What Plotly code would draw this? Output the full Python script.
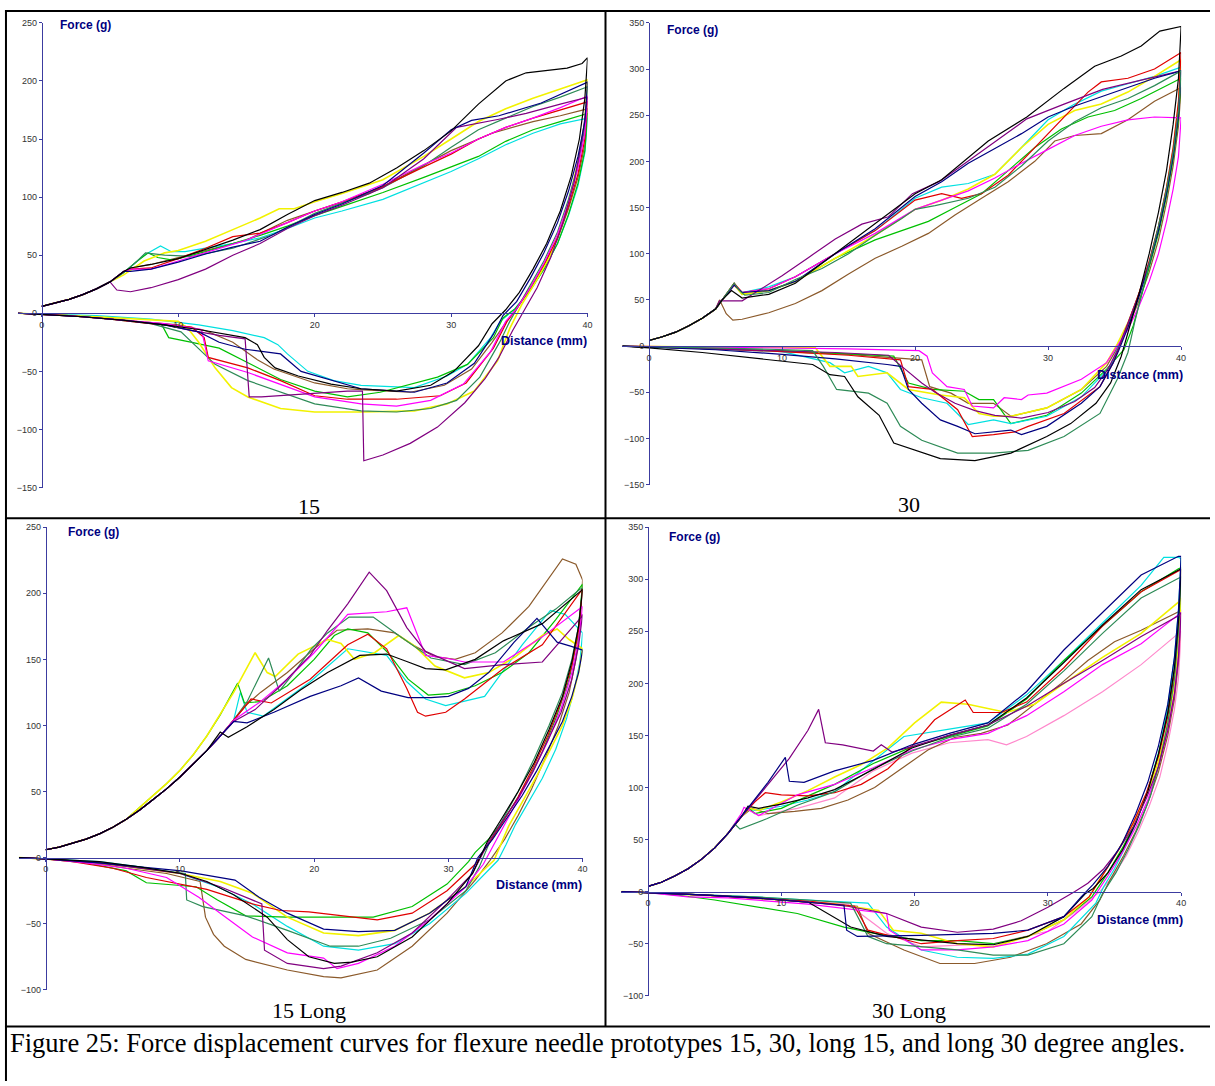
import plotly.graph_objects as go

# ---------------- data (Distance mm, Force g) ----------------
P1_START = [(0, 6), (1, 9), (2, 12), (3, 16), (4, 21), (5, 27)]
P1_BLACK = [(6, 36), (6.5, 39), (8, 42), (10, 47), (12, 55), (14, 63), (16, 72), (18, 85), (20, 97), (22, 104), (24, 112), (26, 125), (28, 140), (30, 157), (32, 180), (34, 200), (35.5, 207), (37, 209), (38.5, 211), (39.6, 215), (40, 220),
            (39.8, 185), (39.4, 150), (38.8, 118), (38, 88), (37, 60), (36, 38), (35, 18), (34, 3), (33, -9), (32, -28), (30.2, -50), (28.5, -62), (26, -67), (23.4, -65), (21.2, -61), (18.8, -54), (17.1, -47), (16.3, -38), (15.8, -27), (14.9, -21), (11.5, -14), (9, -10), (6, -6), (3, -3), (0, -1), (-1.75, 0)]
P1_NAVY = [(6, 36), (6.5, 36), (8, 38), (10, 44), (12, 51), (14, 57), (16, 62), (18, 74), (20, 85), (22, 94), (25, 110), (28, 138), (30, 158), (31.5, 166), (33.5, 170), (36.6, 181), (39.7, 197), (40, 199),
           (39.8, 165), (39.3, 135), (38.6, 105), (37.8, 78), (36.8, 52), (35.8, 30), (34.8, 10), (33.8, -2), (33.1, -18), (31.7, -43), (29.7, -60), (27.3, -68), (23.4, -65), (21, -57), (19, -50), (17.5, -35), (14.9, -31), (13, -25), (11.5, -16), (9, -10), (6, -6), (3, -3), (0, -1), (-1.75, 0)]
P1_PURPLE = [(5.5, 20), (6.5, 18.5), (8, 22), (10, 29), (12, 38), (14, 50), (16, 60), (18, 73), (20, 84), (22, 93), (25, 108), (28, 133), (30.4, 160), (33.5, 167), (35.5, 172), (38, 180), (40, 186),
             (39.6, 150), (39, 112), (38.2, 78), (37.3, 48), (36.3, 22), (35.3, 2), (34.5, -15), (33.5, -38), (32.5, -56), (31, -77), (29, -98), (27, -112), (25, -122), (23.6, -127), (23.5, -67), (22.4, -67), (20, -69), (18, -71), (16.1, -72), (15.2, -72), (14.9, -22), (13, -19), (11, -15), (9, -10), (6, -6), (3, -3), (0, -1), (-1.75, 0)]
P1_MAGENTA = [(6, 36), (6.5, 38), (8, 38), (10, 45), (12, 52), (15, 63), (18, 78), (20, 88), (22, 96), (25, 111), (28, 128), (30, 138), (32, 150), (34, 160), (36, 168), (38, 177), (40, 187),
              (39.8, 155), (39.3, 125), (38.6, 95), (37.8, 68), (36.8, 43), (35.8, 22), (34.8, 4), (34, -7), (32.9, -33), (30.9, -61), (28.5, -75), (26, -80), (23.4, -78), (20, -72), (17.5, -61), (15.1, -51), (12.2, -41), (11.7, -14), (9, -9), (6, -6), (3, -3), (0, -1), (-1.75, 0)]
P1_RED = [(6, 36), (6.5, 38), (8, 39), (10, 47), (12, 56), (14, 66), (16, 69), (18, 78), (20, 88), (22, 96), (25, 109), (28, 126), (30, 137), (32, 150), (34, 160), (36, 168), (38, 175), (40, 182),
          (39.8, 150), (39.3, 120), (38.6, 92), (37.8, 65), (36.8, 42), (35.8, 22), (34.8, 4), (34.1, -7), (33.1, -30), (31.1, -60), (29.2, -71), (26, -74), (22.4, -74), (20, -71), (17.5, -58), (15.1, -47), (12.2, -38), (11.9, -21), (11, -12), (8, -9), (5, -5), (2, -2), (0, -1), (-1.75, 0)]
P1_BROWN = [(6, 36), (6.5, 39), (8, 42), (10, 48), (12, 54), (15, 63), (18, 80), (20, 88), (24, 103), (28, 128), (30, 140), (33, 155), (36, 165), (38, 170), (40, 176),
            (39.8, 145), (39.3, 117), (38.6, 90), (37.8, 64), (36.8, 41), (35.8, 21), (34.8, 4), (34, -8), (33, -25), (31.5, -48), (29.5, -62), (27, -68), (23.6, -66), (22.4, -65), (20, -60), (18.8, -55), (17, -48), (15.8, -40), (14, -25), (12, -15), (10, -10), (7, -7), (4, -3), (0, -1), (-1.75, 0)]
P1_YELLOW = [(6, 33), (7.5, 45), (9, 52), (10, 54), (12, 62), (14, 72), (16, 82), (17.4, 90), (18.5, 90), (20, 96), (22, 103), (25, 115), (28, 135), (30, 150), (32, 165), (34, 176), (36, 185), (38, 193), (40, 201),
             (39.8, 165), (39.3, 130), (38.7, 100), (38, 72), (37.2, 48), (36.2, 27), (35.2, 8), (34.3, -13), (33.4, -41), (31.7, -67), (29.7, -78), (27.3, -84), (23.4, -85), (20, -85), (17.5, -82), (15.1, -72), (13.9, -64), (12.7, -47), (11.5, -25), (10.7, -13), (10, -7), (7, -5), (4, -3), (0, -1), (-1.75, 0)]
P1_GREEN = [(6, 35), (7, 45), (7.8, 52), (8.5, 48), (9.5, 46), (10, 47), (12, 53), (14, 60), (16, 67), (18, 75), (20, 84), (22, 92), (25, 104), (28, 117), (30, 126), (32, 135), (34, 148), (36, 158), (38, 165), (40, 172),
            (39.8, 140), (39.3, 112), (38.6, 85), (37.8, 60), (36.8, 38), (35.8, 20), (34.7, 4), (33.8, -4), (33.1, -21), (31.2, -44), (29, -55), (24.8, -68), (22.4, -72), (20, -67), (17.5, -57), (15.8, -47), (13, -30), (11, -25), (9.3, -21), (8.8, -10), (6, -6), (3, -3), (0, -1), (-1.75, 0)]
P1_DKGREEN = [(6, 35), (7, 45), (7.6, 52), (9, 50), (11, 49), (14, 56), (17, 68), (20, 86), (25, 108), (28, 127), (30, 143), (32, 158), (34, 168), (36, 178), (38, 186), (40, 195),
              (39.8, 160), (39.3, 128), (38.6, 98), (37.8, 70), (36.8, 45), (35.8, 24), (34.9, 6), (34.3, -7), (33.6, -24), (32.1, -55), (30.4, -75), (28.5, -82), (26, -85), (23.4, -84), (20, -78), (17.5, -68), (15.1, -58), (12.7, -44), (10.2, -16), (8, -9), (5, -5), (2, -2), (0, -1), (-1.75, 0)]
P1_CYAN = [(6, 35), (7.5, 50), (8.7, 58), (9.5, 53), (10.5, 53), (12, 56), (14, 60), (16, 65), (18, 73), (20, 82), (22, 88), (25, 98), (28, 112), (30, 122), (32, 133), (34, 145), (36, 155), (38, 163), (40, 168),
           (39.8, 138), (39.3, 110), (38.6, 84), (37.8, 60), (36.8, 38), (35.8, 20), (34.6, 3), (33.6, -7), (32.9, -21), (31.2, -44), (29.7, -54), (27.3, -64), (23.4, -62), (21.4, -58), (19.5, -50), (18, -35), (17.3, -27), (16.3, -21), (14, -15), (11.5, -10), (8, -5), (4, -2), (0, -1), (-1.75, 0)]

P2_START = [(0, 6), (1, 10), (2, 15), (3, 22), (4, 30), (5, 40)]
P2_BLACK = [(5.5, 50), (6.2, 60), (7, 52), (9, 56), (11, 68), (14, 100), (17, 133), (20, 165), (22, 180), (25.5, 222), (28.4, 248), (31.2, 279), (33.5, 303), (35.5, 314), (37, 325), (38.4, 341), (40, 346),
            (39.8, 290), (39.4, 240), (38.9, 190), (38.3, 145), (37.6, 100), (36.9, 60), (36.2, 25), (35.5, -11), (34.7, -40), (33.6, -62), (31.7, -84), (29.9, -98), (27.2, -116), (24.5, -124), (21.9, -122), (20.5, -115), (18.4, -105), (17.3, -75), (15.7, -55), (14.7, -33), (13.6, -31), (12.3, -20), (8, -13), (4, -7), (0, -2), (-2, 0)]
P2_DKGREEN = [(5.5, 50), (6.4, 68), (6.8, 60), (7.2, 55), (9, 58), (11, 72), (13, 84), (15, 100), (17, 120), (19, 138), (20, 148), (21.5, 152), (24, 160), (26, 172), (28, 195), (30, 222), (32, 243), (34, 258), (36, 268), (38, 282), (40, 298),
              (39.8, 255), (39.4, 210), (38.9, 170), (38.3, 130), (37.6, 90), (37, 55), (36.5, 25), (36, -7), (35.2, -36), (33.9, -73), (31.2, -98), (28.5, -113), (25.9, -116), (23.2, -116), (20.5, -102), (18.9, -87), (17.9, -62), (16.5, -51), (14.1, -47), (13.1, -22), (12.3, -5), (8, -3), (4, -2), (0, -1), (-2, 0)]
P2_NAVY = [(5.5, 50), (6.4, 66), (7, 58), (9, 60), (11, 70), (14, 100), (17, 127), (20, 162), (22, 178), (24, 198), (26, 214), (28, 230), (30, 248), (32, 260), (34, 270), (36, 280), (38, 290), (40, 298),
           (39.8, 250), (39.4, 205), (38.9, 165), (38.3, 125), (37.6, 88), (36.8, 52), (36, 20), (35.3, -5), (34.9, -18), (33.9, -44), (32.5, -62), (29.9, -87), (28, -96), (27.2, -91), (24.5, -95), (23.2, -87), (21.9, -80), (20.5, -62), (19.5, -47), (18.9, -22), (17.9, -20), (14, -14), (10, -9), (5, -4), (0, -1), (-2, 0)]
P2_PURPLE = [(5.3, 49), (7, 49), (8, 58), (10, 76), (12, 96), (14, 116), (16, 132), (18, 140), (19.8, 165), (21.8, 178), (23, 190), (25.5, 216), (28.4, 246), (31.2, 262), (34.1, 278), (37, 288), (40, 298),
             (39.8, 252), (39.4, 208), (38.9, 168), (38.3, 128), (37.6, 90), (36.8, 55), (36, 25), (35.2, -5), (34.5, -25), (33.5, -45), (32, -60), (30, -72), (28, -78), (26, -75), (24.5, -70), (23, -62), (21.5, -50), (20.5, -40), (19, -22), (18, -10), (14, -7), (10, -5), (5, -3), (0, -1), (-2, 0)]
P2_MAGENTA = [(5.5, 50), (6.4, 66), (7, 58), (9, 62), (11, 75), (14, 100), (17, 122), (20, 148), (22, 158), (24, 168), (26, 182), (28, 198), (30, 213), (32, 228), (34, 238), (36, 245), (38, 248), (40, 247),
              (39.8, 205), (39.4, 170), (38.9, 135), (38.3, 100), (37.6, 70), (36.8, 42), (36, 18), (35.2, 0), (34.4, -18), (32.5, -36), (29.9, -51), (28.5, -53), (28, -58), (26.7, -56), (25.9, -67), (24.3, -65), (23.7, -47), (22.4, -44), (21.3, -29), (20.9, -11), (20.3, -5), (15, -3), (10, -2), (5, -1), (0, 0), (-2, 0)]
P2_RED = [(5.5, 50), (6.4, 68), (7, 58), (9, 62), (11, 75), (14, 100), (17, 125), (20, 158), (22, 165), (23.5, 160), (25, 165), (27, 185), (29, 215), (31, 245), (33, 275), (34, 286), (36, 290), (38, 300), (40, 318),
          (39.8, 265), (39.4, 215), (38.9, 172), (38.3, 130), (37.6, 92), (36.8, 56), (36, 24), (35.4, 0), (34.9, -18), (33.9, -44), (31.2, -73), (28.5, -87), (27.5, -93), (25.9, -96), (24.3, -98), (23.2, -69), (21.3, -47), (19.5, -44), (18.9, -15), (15, -10), (10, -6), (5, -3), (0, -1), (-2, 0)]
P2_YELLOW = [(5.5, 50), (6.4, 66), (7, 56), (9, 60), (11, 70), (14, 95), (17, 120), (20, 148), (22, 158), (24, 170), (26, 186), (28, 215), (30, 240), (32, 255), (34, 262), (36, 275), (38, 292), (40, 310),
             (39.8, 260), (39.4, 212), (38.9, 170), (38.3, 128), (37.6, 90), (36.8, 55), (36, 25), (35.2, 2), (34.4, -18), (32.5, -47), (29.9, -67), (27.2, -76), (25.9, -76), (24.8, -73), (23.7, -56), (21.9, -53), (19.5, -47), (17.9, -29), (15.7, -33), (15.2, -22), (13.6, -22), (12.5, -2), (8, -1), (4, -1), (0, 0), (-2, 0)]
P2_CYAN = [(5.5, 50), (6.4, 66), (7, 58), (9, 64), (11, 75), (14, 100), (17, 125), (20, 160), (22, 172), (24, 176), (26, 186), (28, 215), (30, 245), (32, 262), (34, 276), (36, 284), (38, 292), (40, 302),
           (39.8, 255), (39.4, 208), (38.9, 168), (38.3, 128), (37.6, 90), (36.8, 55), (36, 24), (35.3, 0), (34.7, -22), (32.5, -55), (29.9, -76), (27.2, -84), (25.9, -80), (24, -85), (22.4, -62), (20.5, -56), (18.9, -47), (17.9, -29), (16.5, -22), (14.7, -29), (13.6, -18), (10, -6), (5, -3), (0, -1), (-2, 0)]
P2_GREEN = [(5.5, 50), (6.4, 68), (7, 56), (9, 60), (11, 70), (14, 95), (17, 115), (19, 125), (21, 135), (23, 150), (25, 165), (27, 190), (29, 215), (31, 235), (33, 248), (35, 255), (37, 268), (40, 290),
            (39.8, 245), (39.4, 202), (38.9, 162), (38.3, 122), (37.6, 85), (37, 52), (36.4, 22), (35.7, -4), (34.4, -25), (32.5, -51), (29.9, -75), (27.2, -84), (25.9, -58), (24.8, -58), (23.7, -49), (21.3, -47), (19.5, -40), (18.4, -11), (14, -8), (10, -5), (5, -3), (0, -1), (-2, 0)]
P2_BROWN = [(5.3, 50), (5.8, 35), (6.3, 28), (7, 29), (9, 36), (11, 46), (13, 60), (15, 78), (17, 95), (19, 108), (21, 122), (23, 142), (25, 160), (27, 178), (29, 200), (30.5, 222), (32, 228), (34, 230), (36, 245), (38, 265), (40, 280),
            (39.8, 238), (39.4, 195), (38.9, 155), (38.3, 115), (37.6, 80), (36.8, 48), (36, 20), (35.2, -2), (34.4, -22), (32.5, -47), (29.9, -67), (27.2, -76), (25.9, -62), (24, -62), (22.7, -51), (21.1, -44), (20.5, -15), (15, -9), (10, -6), (5, -3), (0, -1), (-2, 0)]

P3_START = [(0, 6), (1, 8), (2, 11), (3, 14), (4, 18), (5, 23), (6, 29)]
P3_GREEN = [(7, 38), (8, 47), (9, 56), (10, 66), (11, 78), (12, 92), (13, 108), (14.3, 132), (14.8, 117), (16, 118), (18, 130), (20, 150), (21.5, 168), (22.5, 173), (24, 170), (25.5, 155), (27, 135), (28.5, 123), (30, 124), (32, 130), (34, 140), (36, 155), (38, 180), (40, 207),
            (39.6, 165), (39, 135), (38, 105), (37, 80), (36, 60), (35, 42), (34, 27), (33, 14), (32, 4), (31.5, -3), (29.9, -20), (27.3, -37), (24.4, -45), (20.7, -45), (18, -45), (14.9, -44), (12.8, -32), (11.2, -22), (7.5, -19), (6, -10), (3, -4), (0, -1), (-2, 0)]
P3_YELLOW = [(7, 38), (8, 47), (9, 56), (10, 66), (11, 78), (12, 92), (13, 108), (14, 125), (15.6, 155), (16.5, 140), (17.1, 137), (18.8, 154), (21, 165), (22, 162), (23, 150), (24.5, 155), (26.3, 168), (27.5, 160), (29, 145), (31.2, 136), (33, 140), (35, 152), (37, 168), (38.1, 173), (39, 165), (40, 158),
             (39.7, 140), (39.2, 120), (38.5, 100), (37.6, 82), (36.6, 62), (35.5, 42), (34.5, 24), (33.4, -2), (31.3, -22), (28.6, -42), (26, -55), (23.3, -59), (20.7, -57), (18, -45), (15.4, -27), (13, -18), (10, -12), (7, -8), (4, -4), (0, -1), (-2, 0)]
P3_DKGREEN = [(7, 36), (8, 44), (9, 52), (10, 61), (11, 71), (12, 81), (13, 92), (14, 104), (15, 118), (16.6, 151), (17.4, 126), (18.5, 140), (19.8, 158), (21, 170), (22.6, 182), (24.4, 182), (26.3, 168), (28.7, 151), (31.2, 146), (33.5, 155), (36.1, 175), (38, 188), (39.8, 203), (40, 204),
              (39.7, 175), (39.2, 150), (38.5, 125), (37.5, 100), (36.4, 75), (35.2, 50), (34, 28), (33, 10), (32.3, -7), (31.3, -25), (28.6, -47), (25.7, -61), (23.3, -67), (21.2, -67), (18, -55), (16, -48), (14.9, -44), (11.7, -37), (10.5, -32), (10.4, -12), (7, -8), (4, -4), (0, -1), (-2, 0)]
P3_PURPLE = [(7, 36), (8, 44), (9, 52), (10, 61), (11, 71), (12, 81), (13, 92), (14, 103), (15.6, 112), (17.5, 130), (19.7, 153), (21, 172), (22.5, 192), (24.1, 216), (25.4, 202), (26.9, 174), (28.3, 156), (31.2, 143), (34.1, 146), (37, 148), (39.9, 182), (40, 184),
             (39.7, 160), (39.2, 135), (38.4, 110), (37.4, 88), (36.3, 65), (35.2, 45), (34.1, 28), (33, 12), (31.8, -12), (29.9, -32), (27.3, -57), (24.7, -72), (22, -82), (20.7, -84), (18, -80), (16.3, -70), (16.1, -35), (13, -22), (10, -12), (7, -8), (4, -4), (0, -1), (-2, 0)]
P3_MAGENTA = [(7, 36), (8, 44), (9, 52), (10, 61), (11, 71), (12, 81), (13, 92), (14, 104), (16, 118), (18, 135), (20, 155), (22.5, 184), (25.4, 186), (26.9, 189), (28.3, 153), (29.8, 151), (31.2, 148), (34.1, 148), (37, 167), (39.9, 189), (40, 190),
              (39.7, 165), (39.2, 140), (38.4, 113), (37.4, 88), (36.3, 65), (35.2, 44), (34, 22), (32.6, -5), (31.3, -22), (28.6, -47), (26, -67), (23.3, -80), (21.7, -84), (20.7, -76), (18, -72), (15.4, -60), (13, -42), (11.4, -30), (9, -15), (6, -8), (3, -4), (0, -1), (-2, 0)]
P3_RED = [(7, 36), (8, 44), (9, 52), (10, 61), (11, 71), (12, 81), (13, 92), (14, 104), (15.3, 120), (16.8, 117), (19.7, 135), (22.5, 161), (24, 169), (25.4, 158), (26.9, 128), (27.7, 110), (28.3, 107), (29.8, 110), (31.2, 120), (34.1, 143), (37, 161), (39.9, 202), (40, 203),
          (39.7, 172), (39.2, 145), (38.4, 118), (37.4, 92), (36.3, 68), (35.2, 46), (34, 26), (33, 10), (32, -5), (29.9, -25), (27.3, -42), (24.7, -47), (22, -44), (19.6, -41), (17.5, -40), (15.4, -35), (12, -24), (9, -18), (7.5, -15), (5, -8), (2, -3), (0, -1), (-2, 0)]
P3_CYAN = [(7, 36), (8, 44), (9, 52), (10, 61), (11, 71), (12, 81), (13, 92), (14, 104), (14.5, 125), (15, 110), (16.2, 107), (19.7, 133), (22.5, 158), (25.4, 153), (26.9, 133), (28.3, 120), (29.8, 115), (32.7, 122), (35.5, 161), (37.6, 187), (38.7, 184), (39.9, 171), (40, 170),
           (39.8, 148), (39.4, 128), (38.8, 105), (38, 82), (37, 60), (36, 42), (35, 25), (34.3, 10), (33.7, -2), (31.3, -27), (28.6, -50), (26, -65), (23.3, -70), (20.7, -67), (18, -52), (15.4, -35), (12.8, -22), (10, -12), (7, -7), (4, -3), (0, -1), (-2, 0)]
P3_NAVY = [(7, 36), (8, 44), (9, 52), (10, 61), (11, 71), (12, 81), (13, 92), (14, 103), (15, 102), (17, 110), (19.7, 122), (22, 130), (23.3, 136), (25, 126), (27, 121), (28.7, 121), (30, 122), (31.5, 128), (33, 140), (34.9, 163), (36.6, 181), (38.1, 163), (39.1, 160), (40, 157),
           (39.7, 140), (39.2, 122), (38.5, 103), (37.6, 85), (36.6, 66), (35.5, 47), (34.4, 30), (33.3, 14), (32.2, 0), (31.3, -22), (28.6, -42), (26, -55), (23.3, -56), (20.7, -54), (18, -42), (15.9, -30), (14.1, -17), (10.1, -10), (7, -7), (4, -4), (0, -1), (-2, 0)]
P3_BLACK = [(7, 36), (8, 44), (9, 52), (10, 61), (11, 71), (12, 81), (13, 95), (13.6, 91), (15, 99), (17, 112), (19, 127), (21, 140), (23.4, 153), (25.4, 154), (27, 148), (28.3, 143), (29.8, 142), (32, 150), (34.1, 164), (37, 177), (39.9, 202), (40, 203),
            (39.7, 175), (39.2, 148), (38.5, 122), (37.5, 97), (36.4, 72), (35.2, 50), (34, 30), (32.9, 12), (31.8, -12), (29.9, -35), (27.3, -60), (24.7, -75), (22.8, -79), (21.5, -80), (19.6, -75), (18, -62), (16.5, -45), (14, -28), (12, -18), (10.1, -12), (7, -7), (4, -3), (0, -1), (-2, 0)]
P3_BROWN = [(7, 36), (8, 44), (9, 52), (10, 61), (11, 71), (12, 81), (13, 92), (14, 104), (15, 116), (16, 125), (18, 140), (20, 158), (21.7, 172), (24, 173), (26, 170), (27.5, 160), (29, 152), (30.5, 150), (32, 155), (34, 170), (36, 190), (38.5, 226), (39.5, 222), (40, 210),
            (39.8, 175), (39.5, 150), (39, 125), (38.2, 100), (37.2, 75), (36.2, 52), (35.2, 32), (34.2, 14), (33.1, -2), (32, -17), (29.9, -42), (27.3, -67), (24.7, -85), (22, -91), (20.7, -90), (18, -85), (16, -80), (14.9, -77), (13.3, -67), (12.5, -58), (11.9, -45), (11.5, -18), (9, -12), (6, -8), (3, -3), (0, -1), (-2, 0)]

P4_START = [(0, 5), (1, 9), (2, 15), (3, 22), (4, 31), (5, 42), (6, 56)]
P4_NAVY = [(7, 72), (8, 88), (9, 105), (10.3, 129), (10.6, 106), (11.7, 105), (14, 116), (16.9, 126), (19.8, 141), (22.6, 152), (25.5, 162), (28.4, 192), (31.2, 232), (34.1, 268), (37, 304), (39.8, 322), (40, 322),
           (39.8, 270), (39.5, 225), (39, 180), (38.3, 140), (37.5, 105), (36.6, 75), (35.6, 47), (34.5, 24), (33.4, 7), (32.5, -5), (31.2, -24), (28.5, -37), (25.9, -40), (20.5, -42), (15.7, -43), (14.9, -37), (14.7, -13), (12, -10), (8, -6), (4, -3), (0, -1), (-2, 0)]
P4_PURPLE = [(7, 72), (8, 88), (9, 103), (10.6, 128), (12, 155), (12.8, 175), (13.3, 143), (14.6, 141), (16.9, 135), (17.5, 141), (18.3, 134), (20, 140), (22.6, 150), (25.5, 160), (28.4, 178), (31.2, 200), (34.1, 222), (37, 245), (39.8, 265), (40, 268),
             (39.8, 225), (39.5, 190), (39, 155), (38.3, 120), (37.4, 90), (36.4, 62), (35.3, 40), (34.2, 22), (33, 8), (32, 0), (30, -15), (28, -28), (25.9, -36), (23.2, -39), (20.5, -34), (17.9, -21), (15, -14), (12, -10), (8, -6), (4, -3), (0, -1), (-2, 0)]
P4_YELLOW = [(7, 72), (7.6, 80), (8.3, 78), (10, 86), (12, 97), (14, 110), (16, 122), (18, 138), (20, 162), (22, 182), (24, 180), (26.9, 172), (29, 180), (31, 198), (34.1, 225), (37, 248), (39.8, 278), (40, 282),
             (39.8, 235), (39.5, 200), (39, 160), (38.3, 125), (37.4, 92), (36.4, 65), (35.3, 40), (34.2, 18), (33.1, -5), (31.2, -27), (28.5, -43), (25.9, -53), (23.2, -50), (20.5, -40), (18.4, -37), (17.3, -18), (14, -12), (10, -8), (5, -4), (0, -1), (-2, 0)]
P4_RED = [(7, 72), (8, 86), (8.8, 95), (10, 93), (12, 92), (14, 95), (16, 103), (18, 118), (19.8, 140), (21.5, 165), (23.8, 184), (24.4, 172), (26.5, 172), (28.4, 182), (31.2, 215), (34.1, 255), (37, 288), (39.8, 308), (40, 309),
          (39.8, 255), (39.5, 210), (39, 168), (38.3, 130), (37.4, 95), (36.4, 66), (35.3, 40), (34.2, 18), (33.1, -5), (31.2, -24), (28.5, -37), (25.9, -45), (23.2, -47), (20.5, -50), (16.5, -37), (15.5, -14), (12, -9), (8, -6), (4, -3), (0, -1), (-2, 0)]
P4_BROWN = [(7, 72), (7.8, 80), (9, 75), (11, 77), (13, 80), (15, 88), (17, 100), (19, 118), (21, 136), (23, 148), (25, 152), (27, 160), (29, 180), (31, 200), (33, 222), (35, 240), (37, 251), (39.8, 268), (40, 270),
            (39.8, 220), (39.5, 185), (39, 150), (38.3, 115), (37.5, 85), (36.6, 58), (35.7, 35), (34.7, 12), (33.9, -8), (32.5, -31), (29.9, -50), (27.2, -63), (24.5, -69), (21.9, -69), (19.2, -56), (16.5, -40), (15.7, -14), (12, -10), (8, -6), (4, -3), (0, -1), (-2, 0)]
P4_PINK = [(7, 72), (7.5, 80), (8.3, 73), (11.2, 80), (14, 90), (16.9, 116), (19.8, 133), (22.6, 143), (25.5, 146), (26.9, 141), (28.4, 149), (31.2, 169), (34.1, 192), (37, 218), (39.8, 248), (40, 250),
           (39.8, 205), (39.5, 175), (39, 142), (38.4, 110), (37.6, 82), (36.8, 58), (35.9, 35), (34.9, 15), (33.9, 0), (32, -20), (30, -38), (25.9, -50), (20.5, -53), (17.9, -40), (15, -12), (10, -8), (5, -4), (0, -1), (-2, 0)]
P4_MAGENTA = [(7, 75), (7.2, 81), (8.3, 73), (11.2, 93), (14, 103), (16.9, 119), (19.8, 136), (22.6, 146), (25.5, 152), (28.4, 169), (31.2, 192), (34.1, 218), (37, 238), (39.8, 266), (40, 268),
              (39.8, 225), (39.5, 190), (39, 155), (38.3, 120), (37.5, 88), (36.6, 62), (35.6, 38), (34.5, 15), (33.3, -8), (31.2, -31), (28.5, -47), (25.9, -53), (23.2, -56), (20.5, -56), (18.1, -37), (17.9, -21), (12, -12), (8, -8), (6, -6), (3, -5), (0, -1), (-2, 0)]
P4_CYAN = [(7, 72), (7.6, 80), (8, 78), (10, 82), (12, 88), (14, 96), (16.9, 126), (19.2, 149), (22.6, 156), (25.5, 162), (28.4, 189), (31.2, 222), (34.1, 258), (37, 294), (38.7, 321), (39.8, 321), (40, 320),
           (39.8, 270), (39.5, 225), (39, 178), (38.4, 138), (37.6, 102), (36.8, 72), (35.9, 45), (35, 22), (34.2, 5), (33.6, -11), (31.2, -43), (28.5, -60), (25.9, -64), (23.2, -63), (20.5, -56), (17.9, -34), (16.5, -11), (12, -8), (8, -5), (4, -3), (0, -1), (-2, 0)]
P4_GREEN = [(7, 72), (7.6, 80), (8, 75), (10, 80), (12, 92), (14, 103), (16.9, 123), (19.8, 139), (22.6, 149), (25.5, 159), (28.4, 185), (31.2, 222), (34.1, 255), (37, 288), (39.8, 310), (40, 311),
            (39.8, 260), (39.5, 215), (39, 172), (38.3, 132), (37.5, 97), (36.6, 67), (35.6, 42), (34.5, 18), (33.3, -5), (31.2, -27), (28.5, -43), (25.9, -50), (23.2, -47), (20.5, -47), (17, -40), (14.7, -34), (11.2, -21), (8, -14), (5, -8), (2, -3), (0, -1), (-2, 0)]
P4_DKGREEN = [(6.5, 65), (6.9, 60), (8.9, 70), (11.2, 83), (14, 96), (16.9, 118), (19.8, 135), (22.6, 148), (25.5, 157), (28.4, 180), (31.2, 212), (34.1, 248), (37, 282), (39.8, 301), (40, 302),
              (39.8, 250), (39.5, 205), (39, 162), (38.4, 125), (37.7, 92), (36.9, 65), (36, 40), (35.1, 18), (34.1, -2), (33.3, -24), (31.2, -50), (28.5, -61), (25.9, -61), (23.2, -56), (17.9, -50), (16.5, -43), (15.2, -11), (12, -8), (8, -5), (4, -3), (0, -1), (-2, 0)]
P4_BLACK = [(7, 72), (7.5, 82), (8.3, 80), (10, 84), (12, 90), (14, 98), (17, 118), (19.8, 138), (22.6, 150), (25.5, 160), (28.4, 186), (31.2, 220), (34.1, 256), (37, 290), (39.8, 308), (40, 310),
            (39.8, 260), (39.5, 215), (39, 172), (38.3, 132), (37.5, 96), (36.6, 66), (35.6, 40), (34.5, 18), (33.4, 3), (32.8, -2), (31.2, -24), (28.5, -43), (25.9, -51), (23.2, -50), (17.9, -43), (15.2, -34), (12, -10), (8, -6), (4, -3), (0, -1), (-2, 0)]

X_TICKS = [0, 10, 20, 30, 40]
PANEL_LABELS = ["15", "30", "15 Long", "30 Long"]
CAPTION = "Figure 25: Force displacement curves for flexure needle prototypes 15, 30, long 15, and long 30 degree angles."

# ---------------- styles ----------------
C = dict(black="#000000", navy="#000080", purple="#800080", magenta="#FF00FF", red="#E00000",
         brown="#8B5A2B", yellow="#F2F200", green="#00C000", dkgreen="#2E8B57", cyan="#00E0E0",
         pink="#FF88CC")
AXC = "#3C3CA0"
W, H = 1215, 1086


def fx(p):
    return p / W


def fy(p):
    return 1 - p / H


panels = [
    dict(start=P1_START, curves=[(P1_BROWN, "brown"), (P1_CYAN, "cyan"), (P1_GREEN, "green"), (P1_YELLOW, "yellow"),
                                 (P1_DKGREEN, "dkgreen"), (P1_RED, "red"), (P1_MAGENTA, "magenta"), (P1_PURPLE, "purple"),
                                 (P1_NAVY, "navy"), (P1_BLACK, "black")],
         xr=(-1.75, 40), yr=(-150, 250), xpx=(18, 590), ypx=(487, 18),
         force=(58, 20), dist=(591, 339), lab=(310, 506)),
    dict(start=P2_START, curves=[(P2_BROWN, "brown"), (P2_GREEN, "green"), (P2_CYAN, "cyan"), (P2_YELLOW, "yellow"),
                                 (P2_RED, "red"), (P2_MAGENTA, "magenta"), (P2_PURPLE, "purple"), (P2_NAVY, "navy"),
                                 (P2_DKGREEN, "dkgreen"), (P2_BLACK, "black")],
         xr=(-2, 40), yr=(-150, 350), xpx=(625, 1186), ypx=(484, 18),
         force=(668, 25), dist=(1190, 373), lab=(913, 504)),
    dict(start=P3_START, curves=[(P3_BROWN, "brown"), (P3_CYAN, "cyan"), (P3_GREEN, "green"), (P3_YELLOW, "yellow"),
                                 (P3_DKGREEN, "dkgreen"), (P3_RED, "red"), (P3_MAGENTA, "magenta"), (P3_PURPLE, "purple"),
                                 (P3_NAVY, "navy"), (P3_BLACK, "black")],
         xr=(-2, 40), yr=(-100, 250), xpx=(19, 585), ypx=(994, 527),
         force=(66, 532), dist=(586, 888), lab=(310, 1015)),
    dict(start=P4_START, curves=[(P4_PINK, "pink"), (P4_BROWN, "brown"), (P4_CYAN, "cyan"), (P4_GREEN, "green"),
                                 (P4_YELLOW, "yellow"), (P4_RED, "red"), (P4_MAGENTA, "magenta"), (P4_DKGREEN, "dkgreen"),
                                 (P4_BLACK, "black"), (P4_PURPLE, "purple"), (P4_NAVY, "navy")],
         xr=(-2, 40), yr=(-100, 350), xpx=(624, 1186), ypx=(1000, 527),
         force=(670, 537), dist=(1190, 923), lab=(913, 1015)),
]

fig = go.Figure()
annotations = []
layout_axes = {}

for i, p in enumerate(panels):
    n = "" if i == 0 else str(i + 1)
    xd = [fx(p["xpx"][0]), fx(p["xpx"][1])]
    yd = [fy(p["ypx"][0]), fy(p["ypx"][1])]
    xmin, xmax = p["xr"]
    ymin, ymax = p["yr"]
    xaxis_pos = yd[0] + (0 - ymin) / (ymax - ymin) * (yd[1] - yd[0])
    yaxis_pos = xd[0] + (0 - xmin) / (xmax - xmin) * (xd[1] - xd[0])
    for pts, col in p["curves"]:
        full = p["start"] + pts
        fig.add_trace(go.Scatter(
            x=[q[0] for q in full], y=[q[1] for q in full], mode="lines",
            line=dict(color=C[col], width=1.6 if col == "yellow" else 1.2),
            xaxis="x" + n, yaxis="y" + n, showlegend=False, hoverinfo="skip"))
    common = dict(showline=True, linecolor=AXC, linewidth=1, ticks="outside", ticklen=3,
                  tickcolor=AXC, showgrid=False, zeroline=False,
                  tickfont=dict(family="Arial", size=9, color="#333333"))
    layout_axes["xaxis" + n] = dict(domain=xd, range=[xmin, xmax], anchor="free", position=xaxis_pos,
                                    tickvals=X_TICKS, **common)
    layout_axes["yaxis" + n] = dict(domain=yd, range=[ymin, ymax], anchor="free", position=yaxis_pos,
                                    dtick=50, tick0=0, **common)
    annotations.append(dict(x=fx(p["force"][0]), y=fy(p["force"][1]), xref="paper", yref="paper",
                            text="<b>Force (g)</b>", showarrow=False, xanchor="left", yanchor="middle",
                            font=dict(family="Arial", size=12, color="#000080")))
    annotations.append(dict(x=fx(p["dist"][0]), y=fy(p["dist"][1]), xref="paper", yref="paper",
                            text="<b>Distance (mm)</b>", showarrow=False, xanchor="right", yanchor="middle",
                            font=dict(family="Arial", size=12.5, color="#000080")))
    annotations.append(dict(x=fx(p["lab"][0]), y=fy(p["lab"][1]), xref="paper", yref="paper",
                            text=PANEL_LABELS[i], showarrow=False, xanchor="center", yanchor="middle",
                            font=dict(family="Liberation Serif, Times New Roman, serif", size=22, color="#000000")))

annotations.append(dict(x=fx(8), y=fy(1048), xref="paper", yref="paper", text=CAPTION, showarrow=False,
                        xanchor="left", yanchor="middle",
                        font=dict(family="Liberation Serif, Times New Roman, serif", size=26.5, color="#000000")))

border = dict(color="#000000", width=2)
shapes = [
    dict(type="line", xref="paper", yref="paper", x0=fx(5), x1=1, y0=fy(6), y1=fy(6), line=border),
    dict(type="line", xref="paper", yref="paper", x0=fx(6), x1=fx(6), y0=fy(5), y1=0, line=border),
    dict(type="line", xref="paper", yref="paper", x0=fx(608), x1=fx(608), y0=fy(5), y1=fy(1031), line=border),
    dict(type="line", xref="paper", yref="paper", x0=fx(5), x1=1, y0=fy(518), y1=fy(518), line=border),
    dict(type="line", xref="paper", yref="paper", x0=fx(5), x1=1, y0=fy(1031), y1=fy(1031), line=border),
]

fig.update_layout(width=W, height=H, margin=dict(l=0, r=0, t=0, b=0),
                  paper_bgcolor="white", plot_bgcolor="white",
                  annotations=annotations, shapes=shapes, **layout_axes)

fig.write_html("out.html")
